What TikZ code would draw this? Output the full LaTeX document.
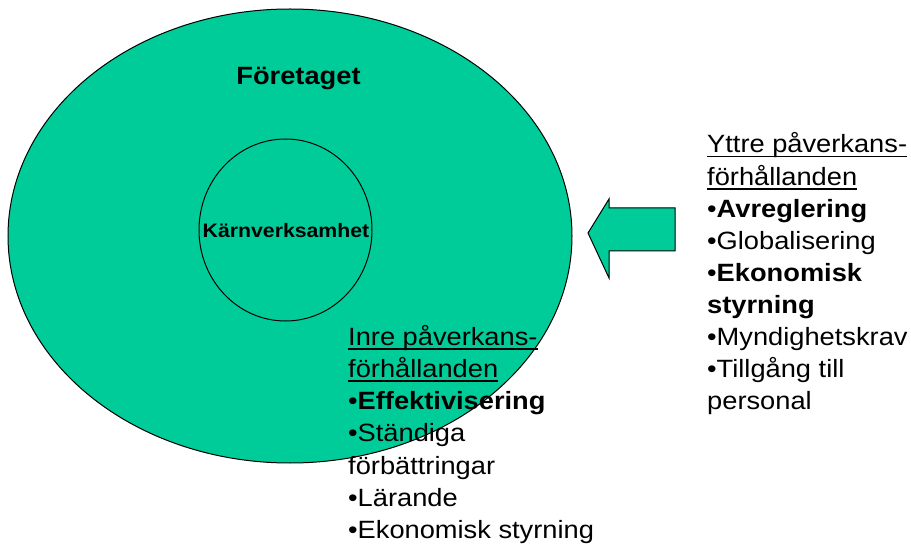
\documentclass[tikz,border=0pt]{standalone}
\usepackage{fontspec}
\setmainfont[FakeStretch=1.09]{Liberation Sans}
\definecolor{corpgreen}{RGB}{0,204,153}
% underline drawn just under the baseline, crossing descenders
\newcommand\ulbar[1]{\setbox0\hbox{#1}\rlap{\rule[-4.5pt]{\wd0}{1.8pt}}\box0}
\tikzset{
  shapeline/.style={draw=black, line width=1pt, fill=corpgreen},
  listline/.style={anchor=base west, inner sep=0pt, font=\fontsize{25}{30}\selectfont},
  title/.style={anchor=base, inner sep=0pt, font=\bfseries\fontsize{25}{30}\selectfont},
  coretitle/.style={anchor=base, inner sep=0pt, font=\bfseries\fontsize{19.5}{23}\selectfont}
}
\begin{document}
\begin{tikzpicture}[x=1pt, y=-1pt]
\useasboundingbox (0,0) rectangle (911,548);

% the company and its core business
\draw[shapeline] (290,236) ellipse [x radius=282, y radius=227];
\draw[shapeline, fill=none] (285.5,230) ellipse [x radius=86.5, y radius=91];
\node[title] (foretaget) at (298.5,85) {Företaget};
\node[coretitle] (karna) at (286,238) {Kärnverksamhet};

% block arrow: external influence acting on the company
\draw[shapeline, line join=miter]
  (588,233) -- (609,199) -- (609,208) -- (675,208) -- (675,251)
  -- (609,251) -- (609,278) -- cycle;

% external conditions
\node[listline] (y1) at (707,153.0) {\ulbar{Yttre påverkans-}};
\node[listline] (y2) at (707,185.1) {\ulbar{förhållanden}};
\node[listline] (y3) at (707,217.2) {•\textbf{Avreglering}};
\node[listline] (y4) at (707,249.3) {•Globalisering};
\node[listline] (y5) at (707,281.4) {•\textbf{Ekonomisk}};
\node[listline] (y6) at (707,313.5) {\textbf{styrning}};
\node[listline] (y7) at (707,345.6) {•Myndighetskrav};
\node[listline] (y8) at (707,377.7) {•Tillgång till};
\node[listline] (y9) at (707,409.8) {personal};

% internal conditions
\node[listline] (i1) at (348,345.0) {\ulbar{Inre påverkans-}};
\node[listline] (i2) at (348,377.3) {\ulbar{förhållanden}};
\node[listline] (i3) at (348,409.6) {•\textbf{Effektivisering}};
\node[listline] (i4) at (348,441.9) {•Ständiga};
\node[listline] (i5) at (348,474.2) {förbättringar};
\node[listline] (i6) at (348,506.5) {•Lärande};
\node[listline] (i7) at (348,538.8) {•Ekonomisk styrning};
\end{tikzpicture}
\end{document}
